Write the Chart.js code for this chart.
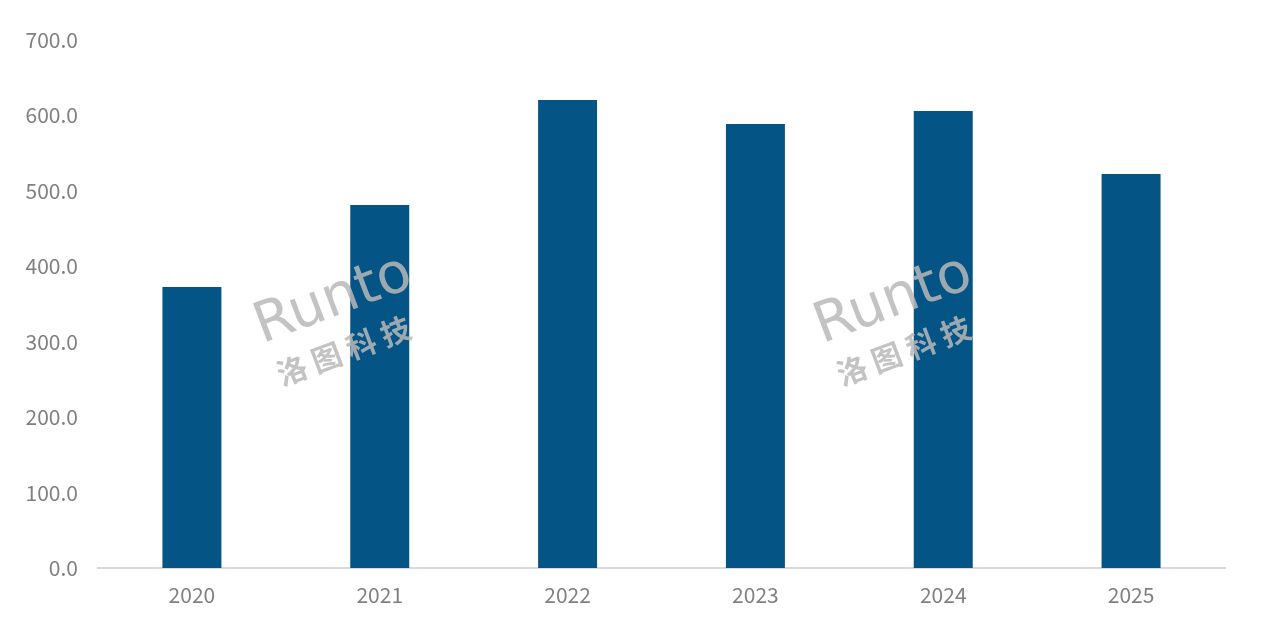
<!DOCTYPE html>
<html>
<head>
<meta charset="utf-8">
<script src="https://cdn.jsdelivr.net/npm/chart.js@4"></script>
<style>
    html, body { margin: 0; padding: 0; background: #ffffff; }
    #wrap { width: 1263px; height: 624px; }
</style>
</head>
<body>
<div id="wrap"><canvas id="barChart"></canvas></div>
<script>
// 年份
const years = ['2020', '2021', '2022', '2023', '2024', '2025'];
// 数值
const values = [372.4, 481.2, 620.3, 588.5, 605.8, 522.3];
// 纵轴刻度
const yTicks = [0, 100, 200, 300, 400, 500, 600, 700];

const labelFont = { family: '"Noto Sans CJK SC", "Noto Sans", sans-serif', size: 21 };
const labelColor = '#808080';

// 水印 "Runto 洛图科技"
const watermark = {
    id: 'watermark',
    afterDatasetsDraw(chart) {
        const ctx = chart.ctx;
        const spots = [[340, 318], [900, 318]];
        spots.forEach(([x, y]) => {
            ctx.save();
            ctx.translate(x, y);
            ctx.rotate(-0.36);
            ctx.fillStyle = 'rgba(185, 185, 185, 0.85)';
            ctx.textAlign = 'center';
            ctx.textBaseline = 'middle';
            ctx.font = '56px "DejaVu Sans", sans-serif';
            ctx.fillText('Runto', 0, -18);
            ctx.font = 'bold 30px "Noto Sans CJK SC", sans-serif';
            ctx.fillText('洛 图 科 技', -8, 32);
            ctx.restore();
        });
    }
};

new Chart(document.getElementById('barChart'), {
    type: 'bar',
    data: {
        labels: years,
        datasets: [{
            data: values,
            backgroundColor: '#045486',
            barPercentage: 0.314,
            categoryPercentage: 1
        }]
    },
    options: {
        responsive: true,
        maintainAspectRatio: false,
        animation: false,
        layout: { padding: { top: 40, right: 38, left: 0, bottom: 0 } },
        plugins: {
            legend: { display: false },
            tooltip: { enabled: false }
        },
        scales: {
            x: {
                grid: { display: false, drawTicks: false },
                border: { display: true, color: '#d9d9d9', width: 2 },
                ticks: { color: labelColor, font: labelFont, padding: 14 },
                afterFit(scale) { scale.height = 56; }
            },
            y: {
                min: 0,
                max: 700,
                grid: { display: false, drawTicks: false },
                border: { display: false },
                afterBuildTicks(scale) {
                    scale.ticks = yTicks.map(v => ({ value: v }));
                },
                ticks: {
                    color: labelColor,
                    font: labelFont,
                    padding: 20,
                    callback: v => v.toFixed(1)
                },
                afterFit(scale) { scale.width = 98; }
            }
        }
    },
    plugins: [watermark]
});
</script>
</body>
</html>
